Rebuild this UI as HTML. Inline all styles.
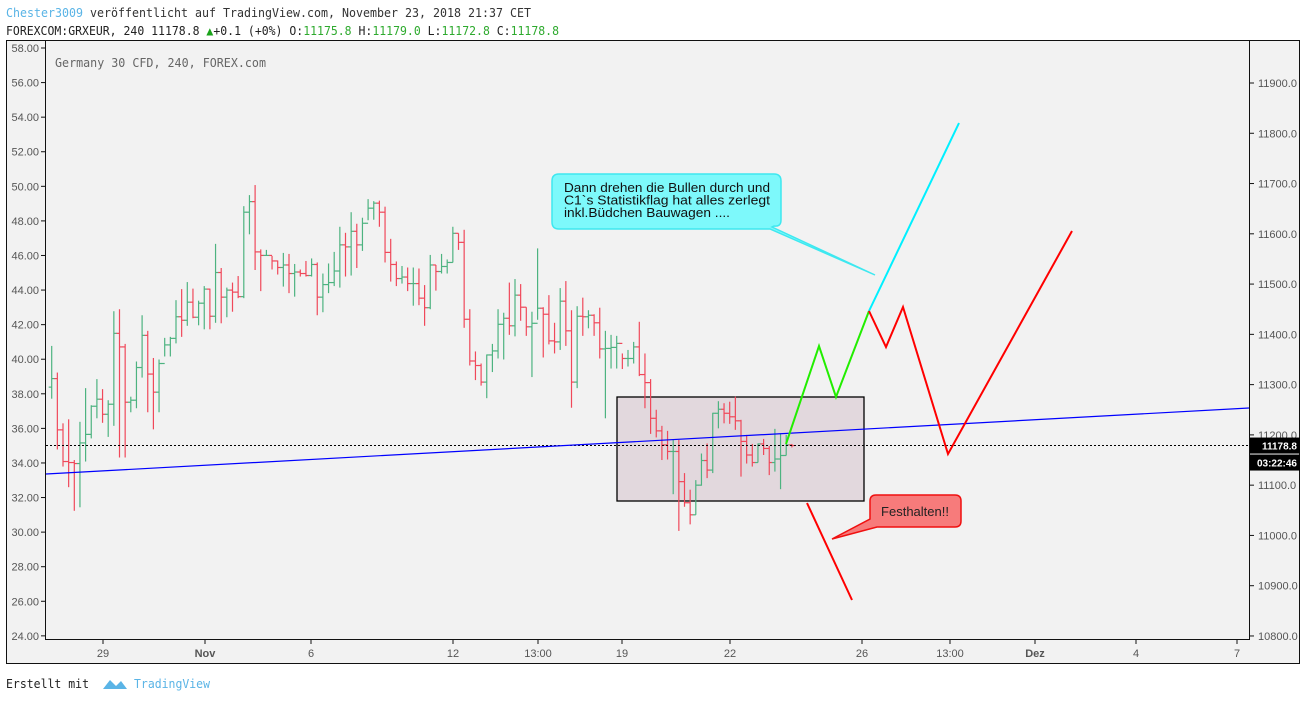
<!DOCTYPE html>
<html><head><meta charset="utf-8"><style>
body{margin:0;background:#fff;width:1307px;height:701px;overflow:hidden;font-family:"DejaVu Sans Mono","Liberation Mono",monospace;}
svg{position:absolute;left:0;top:0}
</style></head><body>
<svg id="c" width="1307" height="701" xmlns="http://www.w3.org/2000/svg"></svg>
<script>
const highs=[11377,11324,11223,11231,11150,11226,11293,11259,11311,11291,11269,11446,11450,11381,11276,11346,11438,11407,11353,11350,11393,11395,11468,11490,11504,11491,11467,11496,11491,11580,11532,11493,11503,11516,11655,11677,11697,11569,11568,11556,11547,11562,11560,11540,11529,11546,11551,11543,11521,11541,11564,11614,11602,11643,11620,11632,11669,11665,11666,11654,11590,11545,11536,11533,11533,11531,11498,11558,11538,11560,11549,11614,11601,11608,11450,11366,11342,11360,11381,11450,11443,11503,11510,11500,11454,11445,11571,11454,11478,11423,11492,11506,11448,11456,11473,11448,11440,11453,11407,11399,11397,11362,11369,11385,11425,11362,11311,11250,11218,11208,11191,11190,11124,11091,11110,11163,11183,11244,11267,11263,11266,11276,11230,11200,11182,11183,11192,11178,11212,11203,11200,11182];
const lows=[11272,11171,11137,11096,11049,11056,11147,11193,11233,11224,11196,11218,11155,11155,11245,11253,11314,11245,11211,11245,11356,11356,11382,11395,11417,11432,11418,11410,11410,11423,11422,11434,11445,11472,11472,11599,11528,11486,11556,11529,11519,11495,11482,11475,11515,11515,11515,11438,11444,11482,11496,11493,11515,11517,11532,11566,11627,11628,11614,11543,11505,11496,11501,11486,11457,11458,11417,11450,11487,11521,11521,11543,11568,11413,11338,11309,11298,11273,11325,11352,11350,11399,11396,11427,11397,11315,11429,11354,11380,11362,11369,11377,11254,11293,11397,11412,11397,11352,11233,11332,11332,11331,11336,11342,11317,11253,11202,11195,11150,11151,11082,11009,11057,11022,11041,11099,11114,11124,11213,11223,11222,11210,11117,11143,11137,11145,11160,11120,11127,11092,11159,11175];
const closes=[11312,11210,11147,11145,11143,11184,11201,11257,11271,11241,11261,11402,11375,11265,11269,11334,11398,11321,11285,11342,11379,11392,11435,11428,11464,11434,11462,11490,11436,11523,11474,11488,11484,11475,11643,11664,11564,11557,11557,11546,11533,11538,11521,11524,11521,11517,11539,11474,11499,11503,11526,11578,11574,11605,11578,11621,11651,11661,11643,11563,11539,11511,11514,11501,11501,11472,11453,11538,11525,11535,11543,11601,11583,11430,11347,11338,11305,11359,11367,11420,11432,11417,11478,11454,11415,11422,11452,11440,11387,11385,11466,11407,11305,11436,11435,11438,11423,11371,11372,11374,11382,11352,11352,11375,11320,11304,11233,11208,11180,11167,11167,11107,11065,11041,11100,11149,11130,11243,11251,11243,11236,11228,11187,11160,11145,11182,11173,11145,11152,11159,11180,11178.8];
const firstOpen=11295;
const leftTicks=[58,56,54,52,50,48,46,44,42,40,38,36,34,32,30,28,26,24];
const rightTicks=[11900,11800,11700,11600,11500,11400,11300,11200,11100,11000,10900,10800];
const timeLabels=["29","Nov","6","12","13:00","19","22","26","13:00","Dez","4","7"];
const timeLabelX=[103,205,311,453,538,622,730,862,950,1035,1136,1237];
const lastPrice=11178.8;

const NS="http://www.w3.org/2000/svg";
const svg=document.getElementById('c');
function el(t,a,p){const e=document.createElementNS(NS,t);for(const k in a)e.setAttribute(k,a[k]);(p||svg).appendChild(e);return e;}
function yP(v){return 83+(11900-v)*0.5027;}
function yL(v){return 48+(58-v)*17.29;}
function xI(i){return 51.7+i*5.65;}

let t=el('text',{x:6,y:17,'font-size':12,fill:'#333',textLength:525,lengthAdjust:'spacingAndGlyphs'});

t.innerHTML='<tspan fill="#5ab4e6">Chester3009</tspan> veröffentlicht auf TradingView.com, November 23, 2018 21:37 CET';
t=el('text',{x:6,y:35,'font-size':12,fill:'#222',textLength:553,lengthAdjust:'spacingAndGlyphs'});

t.innerHTML='FOREXCOM:GRXEUR, 240 11178.8 <tspan fill="#1aa31a">▲</tspan>+0.1 (+0%) O:<tspan fill="#2eaa2e">11175.8</tspan> H:<tspan fill="#2eaa2e">11179.0</tspan> L:<tspan fill="#2eaa2e">11172.8</tspan> C:<tspan fill="#2eaa2e">11178.8</tspan>';

let f=el('rect',{x:6.5,y:40.5,width:1293,height:623,fill:'#f2f2f2',stroke:'#111','stroke-width':1});

el('line',{x1:45.5,y1:40,x2:45.5,y2:639,stroke:'#111'});
el('line',{x1:1249.5,y1:40,x2:1249.5,y2:639,stroke:'#111'});
el('line',{x1:45,y1:639.5,x2:1250,y2:639.5,stroke:'#111'});

leftTicks.forEach(v=>{const y=yL(v);
 el('line',{x1:41,y1:y,x2:45,y2:y,stroke:'#111'});
 const tt=el('text',{x:39,y:y+4,'font-size':11,fill:'#555','text-anchor':'end','font-family':'Liberation Sans'});
 tt.textContent=v.toFixed(2);});
rightTicks.forEach(v=>{const y=yP(v);
 el('line',{x1:1250,y1:y,x2:1254,y2:y,stroke:'#111'});
 const tt=el('text',{x:1258,y:y+4,'font-size':11,fill:'#555','font-family':'Liberation Sans'});
 tt.textContent=v.toFixed(1);});
timeLabels.forEach((s,i)=>{const x=timeLabelX[i];
 el('line',{x1:x,y1:640,x2:x,y2:644,stroke:'#111'});
 const tt=el('text',{x:x,y:657,'font-size':11,fill:'#555','text-anchor':'middle','font-family':'Liberation Sans','font-weight':s==='Nov'||s==='Dez'?'bold':'normal'});
 tt.textContent=s;});

t=el('text',{x:55,y:67,'font-size':12,fill:'#666',textLength:211,lengthAdjust:'spacingAndGlyphs'});

t.textContent='Germany 30 CFD, 240, FOREX.com';

let r=el('rect',{x:617,y:397,width:247,height:104,fill:'#e2d8dd',stroke:'#000','stroke-width':1.3});


closes.forEach((c,i)=>{const o=i?closes[i-1]:firstOpen;const col=c>=o?'#4db380':'#f0485a';const x=xI(i);
 const g=el('g',{stroke:col,'stroke-width':1.2});
 
 el('line',{x1:x,y1:yP(highs[i]),x2:x,y2:yP(lows[i])},g);
 el('line',{x1:x-3,y1:yP(o),x2:x,y2:yP(o)},g);
 el('line',{x1:x,y1:yP(c),x2:x+3,y2:yP(c)},g);});

let ly=yP(lastPrice);
let l=el('line',{x1:46,y1:ly,x2:1249,y2:ly,stroke:'#000','stroke-dasharray':'2,2'});

l=el('line',{x1:46,y1:474,x2:1249,y2:408,stroke:'#0000ff','stroke-width':1.2});


function pl(pts,col,name){const p=el('polyline',{points:pts,fill:'none',stroke:col,'stroke-width':2});}
pl('786,444 819,346 836,397 869,311','#22ee00','green-projection');
pl('869,311 959,123','#00f0ff','cyan-projection');
pl('869,311 886,347 903,307 948,454 1072,231','#ff0000','red-projection');
pl('807,503 852,600','#ff0000','red-drop-projection');

let p=el('path',{d:'M565,174 H774 Q781,174 781,181 V220 Q781,227 774,226 L772,227 L875,275 L770,229 H559 Q552,229 552,222 V181 Q552,174 559,174 Z',fill:'#7df9fb',stroke:'#3ee8f0','stroke-width':1.5});

[['Dann drehen die Bullen durch und',206],['C1`s Statistikflag hat alles zerlegt',206],['inkl.Büdchen Bauwagen ....',166]].forEach((s,i)=>{
 const tt=el('text',{x:564,y:192+i*12.5,'font-size':13,fill:'#111','font-family':'Liberation Sans',textLength:s[1],lengthAdjust:'spacingAndGlyphs'});
 tt.textContent=s[0];});
p=el('path',{d:'M876,495 H955 Q961,495 961,501 V521 Q961,527 955,527 H877 L832,539 L870,519 V501 Q870,495 876,495 Z',fill:'#f77b7b',stroke:'#f01010','stroke-width':1.5});

t=el('text',{x:915,y:516,'font-size':13,fill:'#222','text-anchor':'middle','font-family':'Liberation Sans'});
t.textContent='Festhalten!!';

r=el('rect',{x:1250,y:ly-8,width:50,height:16,fill:'#000'});

t=el('text',{x:1297,y:ly+4,'font-size':10,fill:'#fff','text-anchor':'end','font-weight':'bold','font-family':'Liberation Sans'});t.textContent=lastPrice.toFixed(1);
r=el('rect',{x:1250,y:ly+9,width:50,height:16,fill:'#000'});

t=el('text',{x:1297,y:ly+21,'font-size':10,fill:'#fff','text-anchor':'end','font-weight':'bold','font-family':'Liberation Sans'});t.textContent='03:22:46';

t=el('text',{x:6,y:688,'font-size':12,fill:'#222',textLength:83,lengthAdjust:'spacingAndGlyphs'});
t.textContent='Erstellt mit';
p=el('path',{d:'M103,689 L110,680 L116,686 L121,681 L127,689 Z',fill:'#5ab4e6'});

t=el('text',{x:134,y:688,'font-size':12,fill:'#5ab4e6',textLength:76,lengthAdjust:'spacingAndGlyphs'});
t.textContent='TradingView';
</script>
</body></html>
